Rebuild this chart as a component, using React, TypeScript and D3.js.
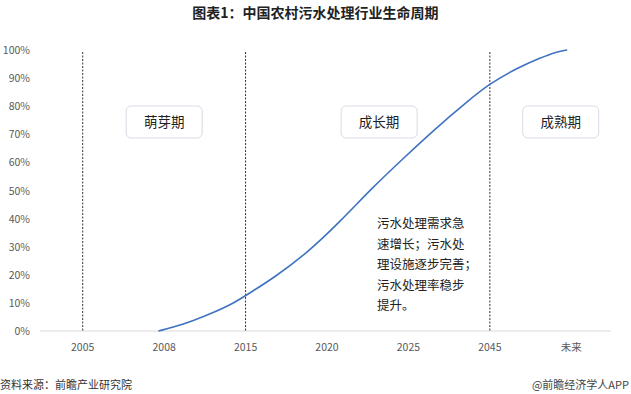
import React from 'react';
import * as d3 from 'd3';

const categories = ['2005', '2008', '2015', '2020', '2025', '2045', '未来'];
const yTicks = [0, 10, 20, 30, 40, 50, 60, 70, 80, 90, 100];

// curve: position on category axis (0 = 2005) and share in %
const curvePos = [0.93, 1.11, 1.36, 1.6, 1.85, 2.055, 2.34, 2.75, 3.16, 3.57, 3.94, 4.31, 4.72, 5.0, 5.33, 5.62, 5.82, 5.95];
const curveVal = [0, 1.3, 3.7, 6.5, 9.8, 13.6, 18.8, 27.6, 38.9, 51.4, 61.5, 71.5, 81.6, 88.1, 93.5, 97.2, 99.4, 100];

const dividers = ['2005', '2015', '2045'];
const stages = ['萌芽期', '成长期', '成熟期'];
const stagePos = [1, 3.64, 5.87];
const noteLines = ['污水处理需求急', '速增长；污水处', '理设施逐步完善；', '污水处理率稳步', '提升。'];

const W = 631;
const H = 394;
const font = '"Microsoft YaHei", "Noto Sans CJK SC", sans-serif';

export default function App() {
  const x = d3.scaleBand<string>().domain(categories).range([42, 612]);
  const pos = d3.scaleLinear().domain([0, categories.length - 1])
    .range([x(categories[0])! + x.bandwidth() / 2, x(categories[categories.length - 1])! + x.bandwidth() / 2]);
  const y = d3.scaleLinear().domain([0, 100]).range([331, 50]);

  const line = d3.line<number>()
    .x((d, i) => pos(curvePos[i]))
    .y(d => y(d))
    .curve(d3.curveBasis);

  return (
    <svg width={W} height={H} style={{ position: 'absolute', left: 0, top: 0, background: '#fff' }} fontFamily={font}>
      <text x={W / 2} y={18} textAnchor="middle" fontSize={14} fontWeight="bold" fill="#222">
        图表1：中国农村污水处理行业生命周期
      </text>

      {yTicks.map(t => (
        <text key={t} x={30} y={y(t) + 4} textAnchor="end" fontSize={10.5} fill="#595959">{t}%</text>
      ))}

      <line x1={40} x2={611} y1={y(0)} y2={y(0)} stroke="#d9d9d9" strokeWidth={1} />

      {categories.map(c => (
        <text key={c} x={x(c)! + x.bandwidth() / 2} y={351} textAnchor="middle" fontSize={10.5} fill="#595959">{c}</text>
      ))}

      {dividers.map(c => (
        <line key={c} x1={x(c)! + x.bandwidth() / 2} x2={x(c)! + x.bandwidth() / 2} y1={52} y2={y(0)}
          stroke="#333" strokeWidth={1} strokeDasharray="2,1.5" />
      ))}

      <path d={line(curveVal) || ''} fill="none" stroke="#3f72c0" strokeWidth={1.6} />

      {stages.map((s, i) => (
        <g key={s} transform={`translate(${pos(stagePos[i])},${122})`}>
          <rect x={-38} y={-16} width={76} height={32} rx={5} fill="#fff" stroke="#d6dce5" strokeWidth={1} />
          <text x={0} y={5} textAnchor="middle" fontSize={13.5} fill="#222">{s}</text>
        </g>
      ))}

      {noteLines.map((l, i) => (
        <text key={i} x={377} y={228 + i * 20.5} fontSize={12.5} fill="#222">{l}</text>
      ))}

      <text x={0} y={389} fontSize={11} fill="#333">资料来源：前瞻产业研究院</text>
      <text x={629} y={389} textAnchor="end" fontSize={11} fill="#444">@前瞻经济学人APP</text>
    </svg>
  );
}
